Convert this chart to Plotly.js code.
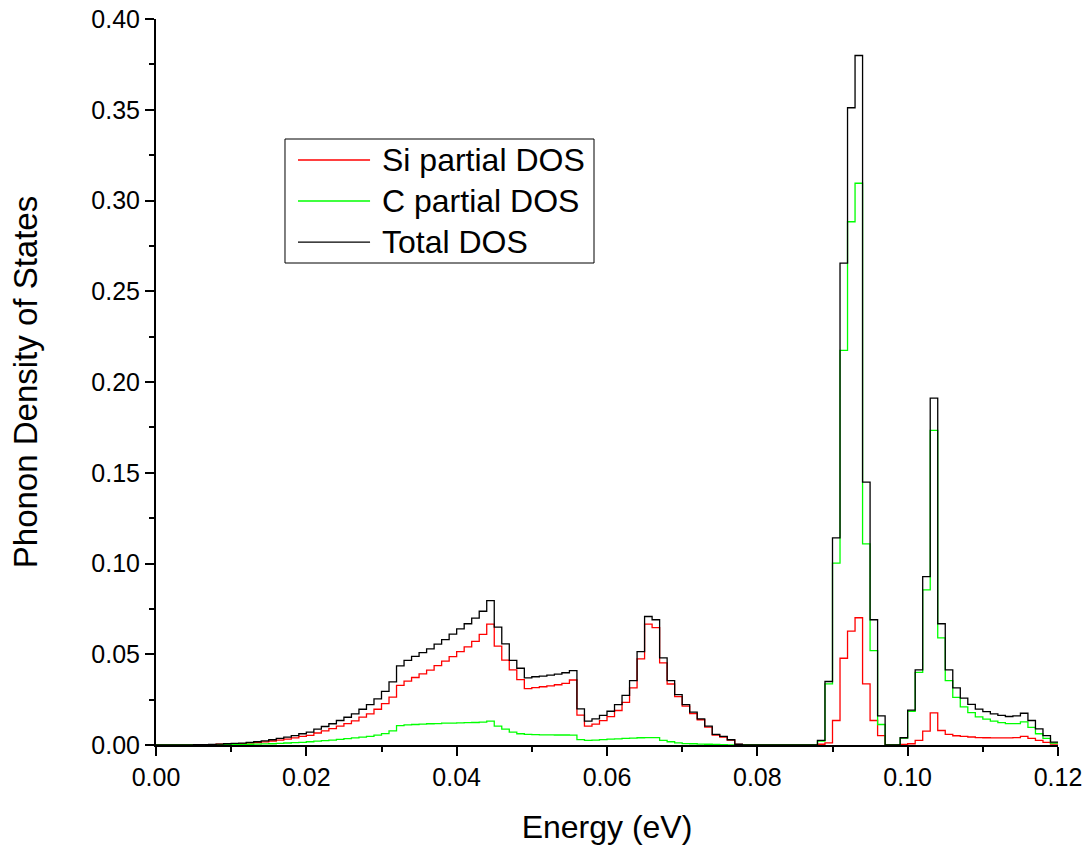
<!DOCTYPE html>
<html>
<head>
<meta charset="utf-8">
<script src="https://cdn.plot.ly/plotly-3.0.1.min.js"></script>
<style>
  html, body { margin: 0; padding: 0; background: #fff; }
  #chart { width: 1091px; height: 850px; }
</style>
</head>
<body>
<div id="chart"></div>
<script>
// Histogram bins: start energy (eV) and width (eV); 120 bins from 0 to 0.12
const binStart = 0.0;
const binWidth = 0.001;

// Si partial DOS per bin
const siDOS = [
  0, 0, 0.0001, 0.0001, 0.0001, 0.0001, 0.0001, 0.0002, 0.0004, 0.0005,
  0.0007, 0.0007, 0.0010, 0.0013, 0.0017, 0.0022, 0.0027, 0.0032, 0.0039, 0.0047,
  0.0053, 0.0066, 0.0078, 0.0090, 0.0104, 0.0118, 0.0133, 0.0154, 0.0172, 0.0197,
  0.0228, 0.0264, 0.0328, 0.0352, 0.0372, 0.0392, 0.0413, 0.0437, 0.0462, 0.0487,
  0.0514, 0.0541, 0.0571, 0.0609, 0.0666, 0.0545, 0.0468, 0.0414, 0.0360, 0.0311,
  0.0316, 0.0321, 0.0326, 0.0332, 0.0339, 0.0358, 0.0165, 0.0104, 0.0115, 0.0134,
  0.0156, 0.0190, 0.0235, 0.0315, 0.0474, 0.0666, 0.0647, 0.0452, 0.0336, 0.0266,
  0.0214, 0.0173, 0.0139, 0.0099, 0.0055, 0.0044, 0.0027, 0.0003, 0, 0,
  0, 0, 0, 0, 0, 0, 0, 0, 0.0004, 0.0012,
  0.0135, 0.0478, 0.0627, 0.0701, 0.0337, 0.0135, 0.0052, 0, 0, 0.0003,
  0.0007, 0.0025, 0.0076, 0.0177, 0.0080, 0.0058, 0.0051, 0.0047, 0.0044, 0.0041,
  0.0040, 0.0039, 0.0039, 0.0039, 0.0041, 0.0047, 0.0037, 0.0025, 0.0015, 0.0005
];

// C partial DOS per bin
const cDOS = [
  0, 0, 0, 0, 0, 0, 0.0001, 0.0001, 0.0001, 0.0002,
  0.0002, 0.0003, 0.0004, 0.0005, 0.0006, 0.0007, 0.0009, 0.0011, 0.0013, 0.0015,
  0.0018, 0.0021, 0.0024, 0.0027, 0.0031, 0.0035, 0.0039, 0.0043, 0.0048, 0.0054,
  0.0063, 0.0078, 0.0107, 0.0111, 0.0113, 0.0115, 0.0117, 0.0118, 0.0120, 0.0121,
  0.0122, 0.0123, 0.0124, 0.0126, 0.0131, 0.0104, 0.0088, 0.0071, 0.0062, 0.0058,
  0.0057, 0.0056, 0.0056, 0.0055, 0.0055, 0.0054, 0.0030, 0.0025, 0.0027, 0.0030,
  0.0032, 0.0034, 0.0036, 0.0038, 0.0040, 0.0041, 0.0041, 0.0026, 0.0018, 0.0012,
  0.0008, 0.0007, 0.0005, 0.0004, 0.0003, 0.0002, 0.0001, 0.0001, 0, 0,
  0, 0, 0, 0, 0, 0, 0, 0, 0.0021, 0.0337,
  0.1002, 0.2174, 0.2883, 0.3095, 0.1108, 0.0520, 0.0113, 0, 0, 0.0038,
  0.0186, 0.0400, 0.0855, 0.1733, 0.0590, 0.0355, 0.0262, 0.0210, 0.0178, 0.0155,
  0.0143, 0.0132, 0.0123, 0.0118, 0.0118, 0.0127, 0.0097, 0.0062, 0.0036, 0.0011
];

// Total DOS per bin
const totalDOS = [
  0, 0, 0.0001, 0.0001, 0.0001, 0.0002, 0.0002, 0.0003, 0.0005, 0.0007,
  0.0009, 0.0010, 0.0014, 0.0018, 0.0023, 0.0029, 0.0036, 0.0043, 0.0052, 0.0062,
  0.0071, 0.0087, 0.0102, 0.0117, 0.0135, 0.0153, 0.0172, 0.0197, 0.0223, 0.0254,
  0.0295, 0.0348, 0.0436, 0.0466, 0.0488, 0.0509, 0.0530, 0.0556, 0.0581, 0.0611,
  0.0640, 0.0668, 0.0699, 0.0737, 0.0796, 0.0649, 0.0557, 0.0466, 0.0423, 0.0370,
  0.0376, 0.0379, 0.0385, 0.0390, 0.0398, 0.0410, 0.0199, 0.0131, 0.0144, 0.0163,
  0.0186, 0.0223, 0.0273, 0.0355, 0.0515, 0.0708, 0.0690, 0.0480, 0.0355, 0.0278,
  0.0223, 0.0181, 0.0144, 0.0104, 0.0058, 0.0047, 0.0029, 0.0004, 0, 0,
  0, 0, 0, 0, 0, 0, 0, 0, 0.0025, 0.0350,
  0.1141, 0.2655, 0.3511, 0.3799, 0.1448, 0.0690, 0.0161, 0, 0, 0.0040,
  0.0192, 0.0414, 0.0928, 0.1911, 0.0668, 0.0414, 0.0315, 0.0258, 0.0224, 0.0198,
  0.0184, 0.0172, 0.0163, 0.0157, 0.0160, 0.0175, 0.0135, 0.0089, 0.0052, 0.0016
];

const seriesNames = ['Si partial DOS', 'C partial DOS', 'Total DOS'];
const seriesColors = ['#ff0000', '#00ff00', '#000000'];

// Bin edges (one more than the number of bins) so the last step closes at 0.12
function edges(n) {
  const e = [];
  for (let i = 0; i <= n; i++) e.push(+(binStart + i * binWidth).toFixed(4));
  return e;
}
function stepY(vals) {
  return vals.concat([vals[vals.length - 1]]);
}

const allSeries = [siDOS, cDOS, totalDOS];
const traces = allSeries.map((vals, k) => ({
  type: 'scatter',
  mode: 'lines',
  x: edges(vals.length),
  y: stepY(vals),
  name: seriesNames[k],
  line: { shape: 'hv', color: seriesColors[k], width: 1.3 },
  hoverinfo: 'x+y+name'
}));

const FONT = 'Liberation Sans, Arial, Helvetica, sans-serif';

// Legend box drawn in paper coordinates (fractions of the plot area)
const legendBox = { x0: 0.143, x1: 0.4856, y0: 0.6639, y1: 0.8347 };
const legendSample = { x0: 0.1574, x1: 0.2373 };
const legendTextX = 0.2483;
const legendRowsY = [0.8058, 0.7493, 0.6928];

const shapes = [{
  type: 'rect', xref: 'paper', yref: 'paper',
  x0: legendBox.x0, x1: legendBox.x1, y0: legendBox.y0, y1: legendBox.y1,
  fillcolor: '#ffffff', line: { color: '#000000', width: 1 }, layer: 'above'
}];
const annotations = [];
seriesNames.forEach((name, k) => {
  shapes.push({
    type: 'line', xref: 'paper', yref: 'paper',
    x0: legendSample.x0, x1: legendSample.x1, y0: legendRowsY[k], y1: legendRowsY[k],
    line: { color: seriesColors[k], width: 1.3 }, layer: 'above'
  });
  annotations.push({
    xref: 'paper', yref: 'paper', x: legendTextX, y: legendRowsY[k],
    xanchor: 'left', yanchor: 'middle', showarrow: false, text: name,
    font: { family: FONT, size: 32, color: '#000000' }
  });
});

const layout = {
  width: 1091,
  height: 850,
  margin: { l: 156, r: 33, t: 19, b: 105 },
  paper_bgcolor: '#ffffff',
  plot_bgcolor: '#ffffff',
  font: { family: FONT, color: '#000000' },
  showlegend: false,
  shapes: shapes,
  annotations: annotations,
  xaxis: {
    range: [0, 0.12],
    tick0: 0, dtick: 0.02,
    tickformat: '.2f',
    ticks: 'outside', ticklen: 9, tickwidth: 2, tickcolor: '#000000',
    showline: true, linewidth: 2, linecolor: '#000000',
    showgrid: false, zeroline: false,
    minor: { dtick: 0.01, ticks: 'outside', ticklen: 5, tickwidth: 2, tickcolor: '#000000', showgrid: false },
    tickfont: { family: FONT, size: 25, color: '#000000' },
    title: { text: 'Energy (eV)', font: { family: FONT, size: 32, color: '#000000' }, standoff: 26 }
  },
  yaxis: {
    range: [0, 0.40],
    tick0: 0, dtick: 0.05,
    tickformat: '.2f',
    ticks: 'outside', ticklen: 9, tickwidth: 2, tickcolor: '#000000',
    showline: true, linewidth: 2, linecolor: '#000000',
    showgrid: false, zeroline: false,
    minor: { dtick: 0.025, ticks: 'outside', ticklen: 5, tickwidth: 2, tickcolor: '#000000', showgrid: false },
    tickfont: { family: FONT, size: 25, color: '#000000' },
    title: { text: 'Phonon Density of States', font: { family: FONT, size: 33, color: '#000000' }, standoff: 44 }
  }
};

Plotly.newPlot('chart', traces, layout, { displayModeBar: false, responsive: false });
</script>
</body>
</html>
